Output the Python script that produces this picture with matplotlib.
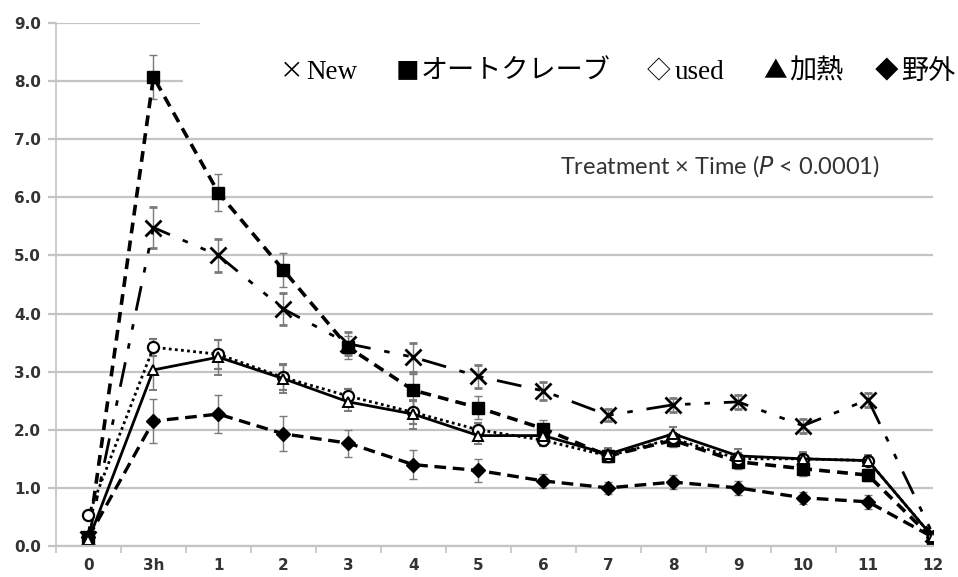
import matplotlib
matplotlib.use("Agg")
import matplotlib.pyplot as plt
from matplotlib.patches import Rectangle

categories = ["0", "3h", "1", "2", "3", "4", "5", "6", "7", "8", "9", "10", "11", "12"]

new_vals = [0.12, 5.48, 5.00, 4.08, 3.48, 3.25, 2.92, 2.67, 2.25, 2.43, 2.48, 2.07, 2.52, 0.20]
new_err = [0.0, 0.35, 0.28, 0.27, 0.20, 0.25, 0.20, 0.15, 0.10, 0.12, 0.12, 0.12, 0.12, 0.0]

auto_vals = [0.15, 8.07, 6.08, 4.75, 3.42, 2.68, 2.38, 2.02, 1.55, 1.82, 1.45, 1.33, 1.22, 0.12]
auto_err = [0.0, 0.38, 0.32, 0.30, 0.20, 0.28, 0.20, 0.15, 0.10, 0.12, 0.12, 0.12, 0.10, 0.0]

used_vals = [0.53, 3.42, 3.30, 2.90, 2.58, 2.30, 2.00, 1.82, 1.55, 1.85, 1.50, 1.50, 1.47, 0.15]
used_err = [0.0, 0.15, 0.25, 0.22, 0.12, 0.20, 0.12, 0.10, 0.10, 0.10, 0.10, 0.10, 0.08, 0.0]

heat_vals = [0.10, 3.03, 3.25, 2.88, 2.48, 2.27, 1.90, 1.90, 1.58, 1.93, 1.55, 1.50, 1.47, 0.15]
heat_err = [0.0, 0.35, 0.30, 0.25, 0.15, 0.25, 0.15, 0.12, 0.10, 0.12, 0.12, 0.12, 0.10, 0.0]

field_vals = [0.15, 2.15, 2.27, 1.93, 1.77, 1.40, 1.30, 1.12, 1.00, 1.10, 1.00, 0.83, 0.76, 0.15]
field_err = [0.0, 0.38, 0.33, 0.30, 0.23, 0.25, 0.20, 0.12, 0.10, 0.12, 0.12, 0.10, 0.12, 0.0]

legend_symbols = ["×", "■", "◇", "▲", "◆"]
legend_names = ["New", "オートクレーブ", "used", "加熱", "野外"]
annot_text = "Treatment × Time ($\\it{P}$ < 0.0001)"

fig = plt.figure(figsize=(9.58, 5.77), dpi=100)
W, H = 958.0, 577.0
ax = fig.add_axes([56/W, 1-546/H, (933-56)/W, (546-23)/H])

x = list(range(len(categories)))

ax.set_ylim(0, 9)
ax.set_xlim(-0.48, 12.2)
ax.set_yticks([i for i in range(10)])
ax.set_yticklabels([f"{i:.1f}" for i in range(10)])
ax.set_xticks(x)
ax.set_xticklabels(categories)
ax.set_xticks([i + 0.5 for i in range(-1, 12)], minor=True)
ax.tick_params(axis="x", which="major", length=0, pad=9)
ax.tick_params(axis="x", which="minor", length=5, color="#c4c4c4", width=1.2)
ax.tick_params(axis="y", which="major", length=6, color="#c4c4c4", width=1.6, pad=5)
for lab in ax.get_xticklabels() + ax.get_yticklabels():
    lab.set_fontweight("bold")
    lab.set_color("#333333")
    lab.set_fontsize(11)
    lab.set_family("DejaVu Sans")

ax.grid(axis="y", color="#c4c4c4", linewidth=1.6)
ax.set_axisbelow(True)
for s in ["top", "right"]:
    ax.spines[s].set_visible(False)
ax.spines["left"].set_color("#c4c4c4")
ax.spines["bottom"].set_color("#c4c4c4")
ax.spines["left"].set_linewidth(1.2)
ax.spines["bottom"].set_linewidth(1.6)

ekw = dict(ecolor="#7a7a7a", elinewidth=1.0, capsize=3, capthick=1.0)

ax.errorbar(x, new_vals, yerr=new_err, color="black", linewidth=2.0,
            dashes=(9, 5, 2, 5, 2, 5), marker="x", markersize=11, markeredgewidth=2.0, **ekw)
ax.errorbar(x, auto_vals, yerr=auto_err, color="black", linewidth=2.6,
            dashes=(3, 2), marker="s", markersize=8, **ekw)
ax.errorbar(x, field_vals, yerr=field_err, color="black", linewidth=2.4,
            dashes=(3.5, 2), marker="D", markersize=7, **ekw)
ax.errorbar(x, used_vals, yerr=used_err, color="black", linewidth=2.0,
            linestyle=(0, (1, 1.2)), marker="o", markersize=8, markerfacecolor="white",
            markeredgewidth=1.6, **ekw)
ax.errorbar(x, heat_vals, yerr=heat_err, color="black", linewidth=2.0,
            linestyle="-", marker="^", markersize=7, markerfacecolor="white",
            markeredgewidth=1.4, **ekw)

# white patches over top-right gridlines (pasted legend area)
fig.patches.append(Rectangle((200/W, 1-55/H), (W-200)/W, 55/H,
                             transform=fig.transFigure, facecolor="white", edgecolor="none", zorder=5))
fig.patches.append(Rectangle((183/W, 1-100/H), (W-183)/W, 46/H,
                             transform=fig.transFigure, facecolor="white", edgecolor="none", zorder=5))

# legend as pasted text: symbol centres and word left edges (pixels)
sym_cx = [292, 407, 659, 775, 887]
name_x = [306, 421, 675, 789, 901]
ly = 1 - 72/H
for s, cx in zip(legend_symbols, sym_cx):
    fig.text(cx/W, ly, s, ha="center", va="center", fontsize=17,
             family=["Noto Sans CJK JP", "DejaVu Sans"], color="black", zorder=10)
for n, nx in zip(legend_names, name_x):
    fig.text(nx/W, ly, n, ha="left", va="center", fontsize=19.5,
             family=["Liberation Serif", "Noto Sans CJK JP"], color="black", zorder=10)

fig.text(880/W, 1-166/H, annot_text, ha="right", va="center", fontsize=17,
         family="Lato", color="#333333", zorder=10,
         bbox=dict(facecolor="white", edgecolor="none", pad=4))

fig.savefig("out.png", dpi=100)
